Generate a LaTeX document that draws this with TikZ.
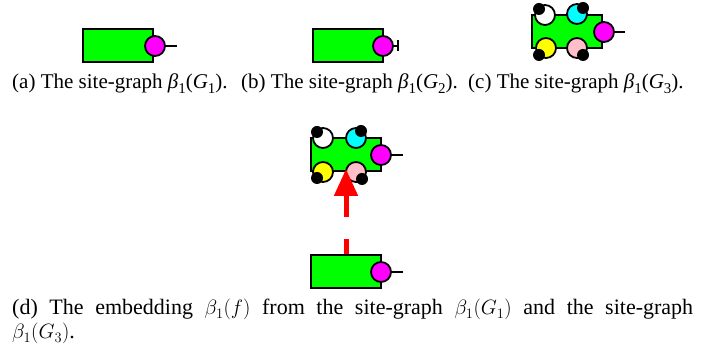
\documentclass[tikz,border=0pt]{standalone}
\usepackage{fontspec}
\setmainfont{Liberation Serif}
\usetikzlibrary{arrows.meta}
\definecolor{sgreen}{RGB}{0,255,0}
\definecolor{smag}{RGB}{255,0,255}
\definecolor{scyan}{RGB}{0,255,255}
\definecolor{syel}{RGB}{255,255,0}
\definecolor{spink}{RGB}{255,190,200}
\definecolor{sred}{RGB}{255,0,0}
\newcommand\mysub[1]{\raisebox{-0.22em}{\fontsize{15}{15}\selectfont #1}}
\newcommand\betaof[1]{\textit{β}\mysub{1}(\textit{G}\mysub{#1})}
\begin{document}
\begin{tikzpicture}[x=1pt,y=-1pt,
  agent/.style={draw=black, line width=2pt, fill=sgreen, minimum width=70pt, minimum height=33pt, inner sep=0},
  site/.style={circle, draw=black, line width=1.8pt, minimum size=20pt, inner sep=0},
  bdot/.style={circle, fill=black, minimum size=12pt, inner sep=0},
  wire/.style={line width=1.6pt},
  captxt/.style={font=\fontsize{21}{25}\selectfont, inner sep=0},
  captxtd/.style={font=\fontsize{22}{24}\selectfont, inner sep=0}]
\useasboundingbox (0,0) rectangle (718,352);
% (a)
\node[agent] (a1) at (118,46) {};
\node[site, fill=smag] (a1m) at (155,46) {};
\coordinate (a1e) at (177,46);
\draw[wire] (a1m.east) -- (a1e);
% (b)
\node[agent] (b1) at (348,46) {};
\node[site, fill=smag] (b1m) at (383,46) {};
\coordinate (b1e) at (399,46);
\draw[wire, -{Bar[width=11pt,line width=1.6pt]}] (b1m.east) -- (b1e);
% (c)
\node[agent] (c1) at (567,32) {};
\node[site, fill=smag] (c1m) at (604,32) {};
\coordinate (c1e) at (625,32);
\draw[wire] (c1m.east) -- (c1e);
\node[site, fill=white] (c1w) at (545,15) {};
\node[site, fill=scyan] (c1c) at (577,14) {};
\node[site, fill=syel] (c1y) at (546,48) {};
\node[site, fill=spink] (c1p) at (577,48) {};
\node[bdot] (c1wd) at (539,9) {};
\node[bdot] (c1cd) at (583,8) {};
\node[bdot] (c1yd) at (539,55) {};
\node[bdot] (c1pd) at (583,55) {};
% (d) top
\node[agent] (d1) at (346,155) {};
\node[site, fill=smag] (d1m) at (381,155) {};
\coordinate (d1e) at (403,155);
\draw[wire] (d1m.east) -- (d1e);
\node[site, fill=white] (d1w) at (323,138) {};
\node[site, fill=scyan] (d1c) at (356,138) {};
\node[site, fill=syel] (d1y) at (323,172) {};
\node[site, fill=spink] (d1p) at (356,172) {};
\node[bdot] (d1wd) at (317,132) {};
\node[bdot] (d1cd) at (361,131) {};
\node[bdot] (d1yd) at (317,178) {};
\node[bdot] (d1pd) at (362,179) {};
% (d) bottom
\node[agent] (d2) at (346,272) {};
\node[site, fill=smag] (d2m) at (381,272) {};
\coordinate (d2e) at (403,272);
\draw[wire] (d2m.east) -- (d2e);
% embedding arrow
\coordinate (tip) at (346,169);
\draw[sred, line width=5pt, dash pattern=on 15pt off 22pt on 80pt off 1pt,
  -{Triangle[width=23pt,length=27pt]}] (d2.north) -- (tip);
% captions
\node[captxt, anchor=base west] (ca) at (12,89) {(a) The site-graph \betaof{1}.};
\node[captxt, anchor=base west] (cb) at (241,89) {(b) The site-graph \betaof{2}.};
\node[captxt, anchor=base west] (cc) at (468,89) {(c) The site-graph \betaof{3}.};
\node[captxtd, anchor=base west, text width=681pt, align=justify] (cd) at (12,315)
  {(d) The embedding $\beta_1(f)$ from the site-graph $\beta_1(G_1)$ and the site-graph\linebreak $\beta_1(G_3)$.};
\end{tikzpicture}
\end{document}
